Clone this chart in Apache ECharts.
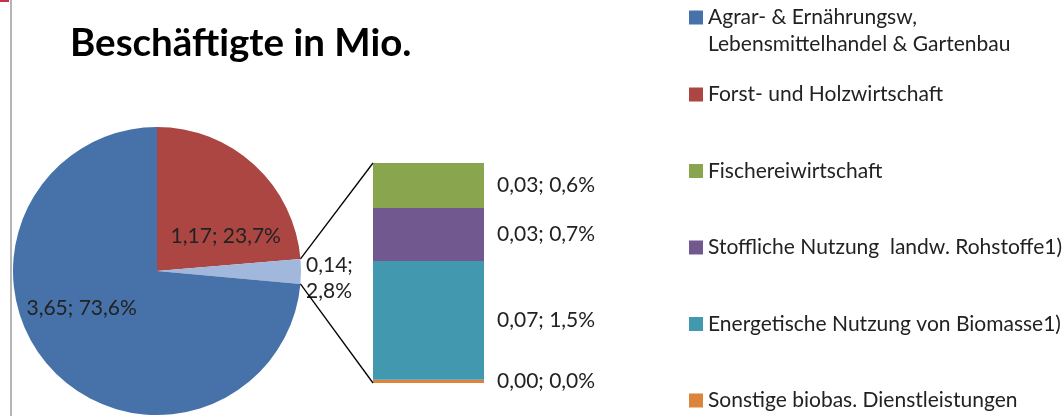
<!DOCTYPE html>
<html>
<head>
<meta charset="utf-8">
<script src="https://cdn.jsdelivr.net/npm/echarts@6/dist/echarts.min.js"></script>
<style>
  html, body { margin: 0; padding: 0; background: #ffffff; }
  #chart { width: 1063px; height: 416px; }
</style>
</head>
<body>
<div id="chart"></div>
<script>
// Beschäftigte in Mio.: main sectors as a pie, the small remainder broken out as a stacked bar
const pieNames = [
  'Forst- und Holzwirtschaft',
  'Weitere Bereiche',
  'Agrar- & Ernährungsw,\nLebensmittelhandel & Gartenbau'
];
const pieValues = [1.174, 0.137, 3.649];
const pieColors = ['#AC4642', '#A2B7DC', '#4672A9'];

// bottom to top in the stacked bar
const barNames = [
  'Sonstige biobas. Dienstleistungen',
  'Energetische Nutzung von Biomasse1)',
  'Stoffliche Nutzung  landw. Rohstoffe1)',
  'Fischereiwirtschaft'
];
const barValues = [0.002, 0.074, 0.033, 0.028];
const barColors = ['#DC843C', '#4298AF', '#71588F', '#89A54D'];

const titleText = 'Beschäftigte in Mio.';

const FONT = 'Lato, "Liberation Sans", sans-serif';
const TEXT_COLOR = '#222222';

// layout
const PIE_CX = 157, PIE_CY = 271, PIE_R = 144;
const BAR_LEFT = 373, BAR_TOP = 163, BAR_W = 111, BAR_H = 220;

const total = pieValues.reduce((a, b) => a + b, 0);
const barTotal = barValues.reduce((a, b) => a + b, 0);

function fmt(v) {
  return v.toFixed(2).replace('.', ',') + '; ' +
         (v / total * 100).toFixed(1).replace('.', ',') + '%';
}

// edges of the remainder slice, used for the connector lines to the bar
const degStart = 90 - pieValues[0] / total * 360;
const degEnd = degStart - pieValues[1] / total * 360;
function piePoint(deg) {
  const r = deg * Math.PI / 180;
  return [PIE_CX + PIE_R * Math.cos(r), PIE_CY - PIE_R * Math.sin(r)];
}
const pTop = piePoint(degStart);
const pBottom = piePoint(degEnd);

const chart = echarts.init(document.getElementById('chart'), null, { renderer: 'canvas' });

const barSeries = barNames.map((name, i) => ({
  type: 'bar',
  name: name,
  stack: 'rest',
  barWidth: '100%',
  data: [barValues[i]],
  itemStyle: { color: barColors[i] },
  label: {
    show: true,
    position: 'right',
    distance: 13,
    fontFamily: FONT,
    fontSize: 21,
    color: TEXT_COLOR,
    formatter: p => fmt(p.value)
  },
  animation: false
}));

const legendText = {
  fontFamily: FONT,
  fontSize: 21,
  lineHeight: 27,
  color: TEXT_COLOR
};

chart.setOption({
  animation: false,
  backgroundColor: '#ffffff',
  title: {
    text: titleText,
    left: 65,
    top: 19,
    textStyle: { fontFamily: FONT, fontSize: 38.5, fontWeight: 'bold', color: '#000000' }
  },
  legend: [
    {
      // two-line entry: the icon sits on the first line
      data: [pieNames[2]],
      formatter: name => ' \n' + name,
      orient: 'vertical',
      left: 689,
      top: -23,
      padding: 0,
      itemGap: 0,
      icon: 'rect',
      itemWidth: 14,
      itemHeight: 14,
      selectedMode: false,
      textStyle: legendText
    },
    {
      data: [pieNames[0], barNames[3], barNames[2], barNames[1], barNames[0]],
      orient: 'vertical',
      left: 689,
      top: 81,
      padding: 0,
      itemGap: 49.5,
      icon: 'rect',
      itemWidth: 14,
      itemHeight: 14,
      selectedMode: false,
      textStyle: legendText
    }
  ],
  grid: { left: BAR_LEFT, top: BAR_TOP, width: BAR_W, height: BAR_H, containLabel: false },
  xAxis: { type: 'category', data: [''], show: false },
  yAxis: { type: 'value', min: 0, max: barTotal, show: false },
  series: [
    {
      type: 'pie',
      center: [PIE_CX, PIE_CY],
      radius: PIE_R,
      startAngle: 90,
      clockwise: true,
      color: pieColors,
      data: pieNames.map((n, i) => ({ name: n, value: pieValues[i] })),
      itemStyle: { borderWidth: 0 },
      label: {
        show: true,
        position: 'inside',
        fontFamily: FONT,
        fontSize: 21,
        lineHeight: 26,
        color: TEXT_COLOR,
        formatter: p => p.dataIndex === 1 ? fmt(p.value).replace('; ', ';\n') : fmt(p.value)
      },
      labelLine: { show: false },
      labelLayout: p => {
        if (p.dataIndex === 0) return { dx: 18, dy: 20 };
        if (p.dataIndex === 2) return { dx: -20, dy: -13 };
        return { x: PIE_CX + PIE_R + 5, y: PIE_CY + 7, align: 'left', verticalAlign: 'middle' };
      },
      emphasis: { disabled: true },
      animation: false
    }
  ].concat(barSeries),
  graphic: [
    { type: 'line', shape: { x1: pTop[0], y1: pTop[1], x2: BAR_LEFT, y2: BAR_TOP }, style: { stroke: '#000000', lineWidth: 1.3 }, z: 10 },
    { type: 'line', shape: { x1: pBottom[0], y1: pBottom[1], x2: BAR_LEFT, y2: BAR_TOP + BAR_H }, style: { stroke: '#000000', lineWidth: 1.3 }, z: 10 },
    // page frame accents
    { type: 'line', shape: { x1: 11, y1: 0, x2: 11, y2: 416 }, style: { stroke: '#9c9c9c', lineWidth: 1.5 } },
    { type: 'rect', shape: { x: 0, y: 0, width: 9, height: 2 }, style: { fill: '#C2334C' } }
  ]
});
</script>
</body>
</html>
